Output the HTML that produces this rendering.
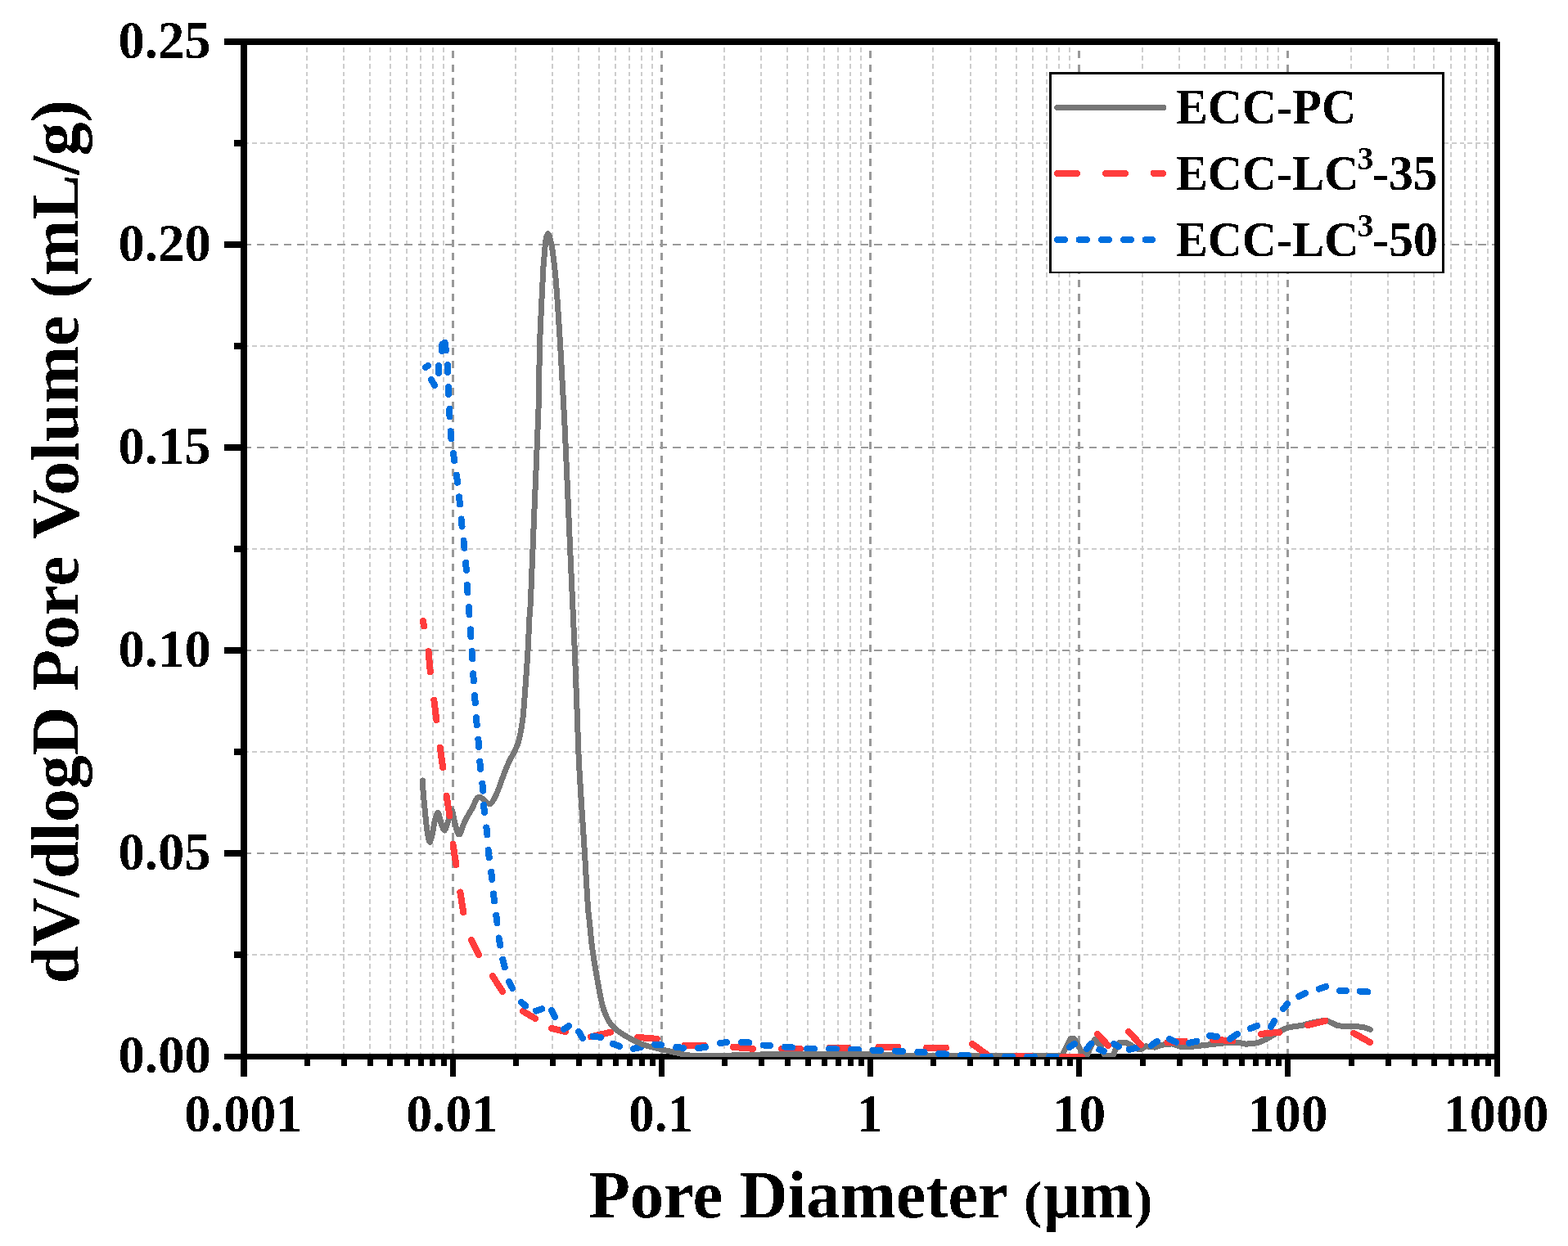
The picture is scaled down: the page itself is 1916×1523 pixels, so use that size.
<!DOCTYPE html>
<html lang="en"><head><meta charset="utf-8"><title>Pore size distribution</title>
<style>
html,body{margin:0;padding:0;background:#fff;}
body{width:1916px;height:1523px;overflow:hidden;}
svg{display:block;}
text{font-family:"Liberation Serif","Times New Roman",serif;font-weight:bold;fill:#000;filter:url(#bin);}
</style></head><body>
<svg width="1916" height="1523" viewBox="0 0 1916 1523" role="img" aria-label="dV/dlogD pore volume versus pore diameter for ECC-PC, ECC-LC3-35 and ECC-LC3-50">
<defs><filter id="bin" x="-5%" y="-20%" width="110%" height="140%" color-interpolation-filters="sRGB"><feComponentTransfer><feFuncA type="discrete" tableValues="0 1"/></feComponentTransfer></filter></defs>
<rect width="1916" height="1523" fill="#fff"/>
<g id="minor-grid" stroke="#cdcdcd" stroke-width="2" fill="none" shape-rendering="crispEdges">
<line x1="375" y1="51" x2="375" y2="1292" stroke-dasharray="5.8 4.024" stroke-dashoffset="2.72"/>
<line x1="420" y1="51" x2="420" y2="1292" stroke-dasharray="5.8 4.024" stroke-dashoffset="2.72"/>
<line x1="452" y1="51" x2="452" y2="1292" stroke-dasharray="5.8 4.024" stroke-dashoffset="2.72"/>
<line x1="477" y1="51" x2="477" y2="1292" stroke-dasharray="5.8 4.024" stroke-dashoffset="2.72"/>
<line x1="497" y1="51" x2="497" y2="1292" stroke-dasharray="5.8 4.024" stroke-dashoffset="2.72"/>
<line x1="514" y1="51" x2="514" y2="1292" stroke-dasharray="5.8 4.024" stroke-dashoffset="2.72"/>
<line x1="529" y1="51" x2="529" y2="1292" stroke-dasharray="5.8 4.024" stroke-dashoffset="2.72"/>
<line x1="542" y1="51" x2="542" y2="1292" stroke-dasharray="5.8 4.024" stroke-dashoffset="2.72"/>
<line x1="630" y1="51" x2="630" y2="1292" stroke-dasharray="5.8 4.024" stroke-dashoffset="2.72"/>
<line x1="675" y1="51" x2="675" y2="1292" stroke-dasharray="5.8 4.024" stroke-dashoffset="2.72"/>
<line x1="707" y1="51" x2="707" y2="1292" stroke-dasharray="5.8 4.024" stroke-dashoffset="2.72"/>
<line x1="732" y1="51" x2="732" y2="1292" stroke-dasharray="5.8 4.024" stroke-dashoffset="2.72"/>
<line x1="752" y1="51" x2="752" y2="1292" stroke-dasharray="5.8 4.024" stroke-dashoffset="2.72"/>
<line x1="769" y1="51" x2="769" y2="1292" stroke-dasharray="5.8 4.024" stroke-dashoffset="2.72"/>
<line x1="784" y1="51" x2="784" y2="1292" stroke-dasharray="5.8 4.024" stroke-dashoffset="2.72"/>
<line x1="797" y1="51" x2="797" y2="1292" stroke-dasharray="5.8 4.024" stroke-dashoffset="2.72"/>
<line x1="885" y1="51" x2="885" y2="1292" stroke-dasharray="5.8 4.024" stroke-dashoffset="2.72"/>
<line x1="930" y1="51" x2="930" y2="1292" stroke-dasharray="5.8 4.024" stroke-dashoffset="2.72"/>
<line x1="962" y1="51" x2="962" y2="1292" stroke-dasharray="5.8 4.024" stroke-dashoffset="2.72"/>
<line x1="987" y1="51" x2="987" y2="1292" stroke-dasharray="5.8 4.024" stroke-dashoffset="2.72"/>
<line x1="1007" y1="51" x2="1007" y2="1292" stroke-dasharray="5.8 4.024" stroke-dashoffset="2.72"/>
<line x1="1024" y1="51" x2="1024" y2="1292" stroke-dasharray="5.8 4.024" stroke-dashoffset="2.72"/>
<line x1="1039" y1="51" x2="1039" y2="1292" stroke-dasharray="5.8 4.024" stroke-dashoffset="2.72"/>
<line x1="1052" y1="51" x2="1052" y2="1292" stroke-dasharray="5.8 4.024" stroke-dashoffset="2.72"/>
<line x1="1140" y1="51" x2="1140" y2="1292" stroke-dasharray="5.8 4.024" stroke-dashoffset="2.72"/>
<line x1="1186" y1="51" x2="1186" y2="1292" stroke-dasharray="5.8 4.024" stroke-dashoffset="2.72"/>
<line x1="1217" y1="51" x2="1217" y2="1292" stroke-dasharray="5.8 4.024" stroke-dashoffset="2.72"/>
<line x1="1242" y1="51" x2="1242" y2="1292" stroke-dasharray="5.8 4.024" stroke-dashoffset="2.72"/>
<line x1="1262" y1="51" x2="1262" y2="1292" stroke-dasharray="5.8 4.024" stroke-dashoffset="2.72"/>
<line x1="1279" y1="51" x2="1279" y2="1292" stroke-dasharray="5.8 4.024" stroke-dashoffset="2.72"/>
<line x1="1294" y1="51" x2="1294" y2="1292" stroke-dasharray="5.8 4.024" stroke-dashoffset="2.72"/>
<line x1="1307" y1="51" x2="1307" y2="1292" stroke-dasharray="5.8 4.024" stroke-dashoffset="2.72"/>
<line x1="1396" y1="51" x2="1396" y2="1292" stroke-dasharray="5.8 4.024" stroke-dashoffset="2.72"/>
<line x1="1441" y1="51" x2="1441" y2="1292" stroke-dasharray="5.8 4.024" stroke-dashoffset="2.72"/>
<line x1="1472" y1="51" x2="1472" y2="1292" stroke-dasharray="5.8 4.024" stroke-dashoffset="2.72"/>
<line x1="1497" y1="51" x2="1497" y2="1292" stroke-dasharray="5.8 4.024" stroke-dashoffset="2.72"/>
<line x1="1517" y1="51" x2="1517" y2="1292" stroke-dasharray="5.8 4.024" stroke-dashoffset="2.72"/>
<line x1="1535" y1="51" x2="1535" y2="1292" stroke-dasharray="5.8 4.024" stroke-dashoffset="2.72"/>
<line x1="1549" y1="51" x2="1549" y2="1292" stroke-dasharray="5.8 4.024" stroke-dashoffset="2.72"/>
<line x1="1562" y1="51" x2="1562" y2="1292" stroke-dasharray="5.8 4.024" stroke-dashoffset="2.72"/>
<line x1="1651" y1="51" x2="1651" y2="1292" stroke-dasharray="5.8 4.024" stroke-dashoffset="2.72"/>
<line x1="1696" y1="51" x2="1696" y2="1292" stroke-dasharray="5.8 4.024" stroke-dashoffset="2.72"/>
<line x1="1728" y1="51" x2="1728" y2="1292" stroke-dasharray="5.8 4.024" stroke-dashoffset="2.72"/>
<line x1="1752" y1="51" x2="1752" y2="1292" stroke-dasharray="5.8 4.024" stroke-dashoffset="2.72"/>
<line x1="1773" y1="51" x2="1773" y2="1292" stroke-dasharray="5.8 4.024" stroke-dashoffset="2.72"/>
<line x1="1790" y1="51" x2="1790" y2="1292" stroke-dasharray="5.8 4.024" stroke-dashoffset="2.72"/>
<line x1="1804" y1="51" x2="1804" y2="1292" stroke-dasharray="5.8 4.024" stroke-dashoffset="2.72"/>
<line x1="1818" y1="51" x2="1818" y2="1292" stroke-dasharray="5.8 4.024" stroke-dashoffset="2.72"/>
<line x1="298.18" y1="1167" x2="1829" y2="1167" stroke-dasharray="5.8 3.972"/>
<line x1="298.18" y1="919" x2="1829" y2="919" stroke-dasharray="5.8 3.972"/>
<line x1="298.18" y1="671" x2="1829" y2="671" stroke-dasharray="5.8 3.972"/>
<line x1="298.18" y1="423" x2="1829" y2="423" stroke-dasharray="5.8 3.972"/>
<line x1="298.18" y1="175" x2="1829" y2="175" stroke-dasharray="5.8 3.972"/>
</g>
<g id="major-grid" stroke="#999999" fill="none" shape-rendering="crispEdges">
<line x1="553.5" y1="51" x2="553.5" y2="1292" stroke-width="3" stroke-dasharray="9.1 7.39" stroke-dashoffset="5.45"/>
<line x1="808.5" y1="51" x2="808.5" y2="1292" stroke-width="3" stroke-dasharray="9.1 7.39" stroke-dashoffset="5.45"/>
<line x1="1063.5" y1="51" x2="1063.5" y2="1292" stroke-width="3" stroke-dasharray="9.1 7.39" stroke-dashoffset="5.45"/>
<line x1="1318.5" y1="51" x2="1318.5" y2="1292" stroke-width="3" stroke-dasharray="9.1 7.39" stroke-dashoffset="5.45"/>
<line x1="1573.5" y1="51" x2="1573.5" y2="1292" stroke-width="3" stroke-dasharray="9.1 7.39" stroke-dashoffset="5.45"/>
<line x1="298" y1="1043" x2="1829" y2="1043" stroke-width="2" stroke-dasharray="9.2 7.2" stroke-dashoffset="0.4"/>
<line x1="298" y1="795" x2="1829" y2="795" stroke-width="2" stroke-dasharray="9.2 7.2" stroke-dashoffset="0.4"/>
<line x1="298" y1="547" x2="1829" y2="547" stroke-width="2" stroke-dasharray="9.2 7.2" stroke-dashoffset="0.4"/>
<line x1="298" y1="299" x2="1829" y2="299" stroke-width="2" stroke-dasharray="9.2 7.2" stroke-dashoffset="0.4"/>
</g>
<g id="axes" fill="#000" shape-rendering="crispEdges">
<rect x="274" y="47" width="1556" height="8"/>
<rect x="274" y="1288" width="1559" height="7"/>
<rect x="294" y="47" width="8" height="1269"/>
<rect x="1826" y="51" width="7" height="1265"/>
<rect x="274" y="1039" width="20" height="8"/>
<rect x="274" y="791" width="20" height="8"/>
<rect x="274" y="543" width="20" height="8"/>
<rect x="274" y="295" width="20" height="8"/>
<rect x="286" y="1163" width="8" height="8"/>
<rect x="286" y="915" width="8" height="8"/>
<rect x="286" y="667" width="8" height="8"/>
<rect x="286" y="419" width="8" height="8"/>
<rect x="286" y="171" width="8" height="8"/>
<rect x="550" y="1295" width="7" height="21"/>
<rect x="805" y="1295" width="7" height="21"/>
<rect x="1060" y="1295" width="7" height="21"/>
<rect x="1315" y="1295" width="7" height="21"/>
<rect x="1570" y="1295" width="7" height="21"/>
<rect x="372" y="1295" width="7" height="8"/>
<rect x="417" y="1295" width="7" height="8"/>
<rect x="449" y="1295" width="7" height="8"/>
<rect x="473" y="1295" width="7" height="8"/>
<rect x="494" y="1295" width="7" height="8"/>
<rect x="511" y="1295" width="7" height="8"/>
<rect x="525" y="1295" width="7" height="8"/>
<rect x="539" y="1295" width="7" height="8"/>
<rect x="627" y="1295" width="7" height="8"/>
<rect x="672" y="1295" width="7" height="8"/>
<rect x="704" y="1295" width="7" height="8"/>
<rect x="729" y="1295" width="7" height="8"/>
<rect x="749" y="1295" width="7" height="8"/>
<rect x="766" y="1295" width="7" height="8"/>
<rect x="781" y="1295" width="7" height="8"/>
<rect x="794" y="1295" width="7" height="8"/>
<rect x="882" y="1295" width="7" height="8"/>
<rect x="927" y="1295" width="7" height="8"/>
<rect x="959" y="1295" width="7" height="8"/>
<rect x="984" y="1295" width="7" height="8"/>
<rect x="1004" y="1295" width="7" height="8"/>
<rect x="1021" y="1295" width="7" height="8"/>
<rect x="1036" y="1295" width="7" height="8"/>
<rect x="1049" y="1295" width="7" height="8"/>
<rect x="1137" y="1295" width="7" height="8"/>
<rect x="1182" y="1295" width="7" height="8"/>
<rect x="1214" y="1295" width="7" height="8"/>
<rect x="1239" y="1295" width="7" height="8"/>
<rect x="1259" y="1295" width="7" height="8"/>
<rect x="1276" y="1295" width="7" height="8"/>
<rect x="1291" y="1295" width="7" height="8"/>
<rect x="1304" y="1295" width="7" height="8"/>
<rect x="1393" y="1295" width="7" height="8"/>
<rect x="1438" y="1295" width="7" height="8"/>
<rect x="1469" y="1295" width="7" height="8"/>
<rect x="1494" y="1295" width="7" height="8"/>
<rect x="1514" y="1295" width="7" height="8"/>
<rect x="1531" y="1295" width="7" height="8"/>
<rect x="1546" y="1295" width="7" height="8"/>
<rect x="1559" y="1295" width="7" height="8"/>
<rect x="1648" y="1295" width="7" height="8"/>
<rect x="1693" y="1295" width="7" height="8"/>
<rect x="1725" y="1295" width="7" height="8"/>
<rect x="1749" y="1295" width="7" height="8"/>
<rect x="1770" y="1295" width="7" height="8"/>
<rect x="1787" y="1295" width="7" height="8"/>
<rect x="1801" y="1295" width="7" height="8"/>
<rect x="1815" y="1295" width="7" height="8"/>
</g>
<defs><clipPath id="plotclip"><rect x="298" y="51" width="1531.5" height="1241"/></clipPath></defs>
<g id="curves" clip-path="url(#plotclip)" fill="none" stroke-linecap="round" stroke-linejoin="round" shape-rendering="crispEdges">
<g stroke-width="8">
<path d="M722.1,1267.3 L746.1,1261.6" stroke="#ff3c3c"/>
<path d="M779.0,1267.9 L802.8,1269.8" stroke="#ff3c3c"/>
<path d="M954.9,1282.0 L977.9,1282.0" stroke="#ff3c3c"/>
<path d="M1013.5,1280.6 L1036.6,1280.6" stroke="#ff3c3c"/>
<path d="M1654.0,1262.7 L1674.1,1274.0" stroke="#ff3c3c"/>
<path d="M774.1,1281.8 L783.0,1279.9" stroke="#006fdf"/>
<path d="M986.2,1282.0 L994.9,1282.0" stroke="#006fdf"/>
<path d="M1013.1,1282.0 L1022.0,1282.3" stroke="#006fdf"/>
<path d="M1040.0,1282.8 L1049.0,1283.0" stroke="#006fdf"/>
<path id="ecc-pc" d="M516.4,954.0 C516.5,955.3 516.4,957.1 516.7,961.7 C517.0,966.3 517.7,974.3 518.4,981.8 C519.1,989.3 520.1,999.8 520.9,1006.8 C521.7,1013.8 522.6,1019.8 523.4,1023.5 C524.2,1027.2 524.7,1029.8 525.5,1029.0 C526.3,1028.2 527.4,1023.0 528.4,1018.5 C529.4,1014.0 530.5,1006.0 531.7,1001.8 C532.9,997.6 534.1,992.7 535.4,993.5 C536.6,994.3 537.9,1003.2 539.2,1006.8 C540.5,1010.4 542.0,1015.5 543.4,1015.0 C544.8,1014.5 546.1,1007.6 547.6,1003.5 C549.1,999.4 550.7,989.8 552.1,990.3 C553.5,990.8 554.5,1001.8 556.0,1006.8 C557.5,1011.8 559.2,1020.0 561.0,1020.0 C562.8,1020.0 565.0,1010.7 566.8,1006.8 C568.6,1002.9 570.0,1000.1 571.8,996.8 C573.6,993.5 576.0,990.0 577.7,986.8 C579.4,983.6 580.3,979.7 581.8,977.6 C583.3,975.5 584.0,973.5 586.8,974.4 C589.6,975.3 595.4,983.1 598.5,982.9 C601.6,982.7 603.4,976.6 605.2,973.4 C607.0,970.2 607.7,968.2 609.4,963.8 C611.1,959.4 614.4,949.9 615.4,947.1 C616.5,944.3 620.1,935.1 622.3,930.4 C624.5,925.7 626.7,922.9 628.6,918.7 C630.5,914.5 632.2,911.8 633.9,905.4 C635.6,899.0 637.3,890.0 638.6,880.3 C639.9,870.5 640.4,861.1 641.5,846.9 C642.6,832.7 644.1,810.6 645.0,795.1 C645.9,779.6 646.4,764.8 647.0,753.9 C647.6,743.0 647.6,753.1 648.6,730.0 C649.6,706.9 651.7,653.3 653.3,615.0 C654.9,576.7 657.0,532.0 658.0,500.0 C659.0,468.0 658.8,445.3 659.5,422.8 C660.2,400.3 661.3,380.8 662.0,365.2 C662.7,349.6 663.3,337.8 663.8,329.0 C664.3,320.2 664.7,317.9 665.1,312.7 C665.5,307.5 666.0,301.7 666.4,298.0 C666.8,294.3 667.1,292.4 667.6,290.3 C668.1,288.2 668.9,285.8 669.5,285.6 C670.1,285.4 670.8,287.3 671.5,289.3 C672.2,291.3 672.9,294.2 673.6,297.6 C674.3,301.0 674.7,302.5 675.6,309.4 C676.5,316.3 678.0,329.0 678.9,338.9 C679.8,348.8 680.2,354.5 681.2,368.5 C682.2,382.5 683.2,396.9 684.7,422.8 C686.2,448.7 688.4,487.7 690.2,523.9 C692.0,560.1 693.6,601.7 695.3,640.0 C697.0,678.3 699.2,728.0 700.4,753.9 C701.6,779.8 701.5,776.8 702.3,795.1 C703.0,813.4 704.0,841.1 704.9,863.6 C705.8,886.1 706.4,910.4 707.4,930.4 C708.4,950.4 709.5,965.6 710.6,983.9 C711.8,1002.2 713.0,1019.7 714.3,1040.2 C715.6,1060.7 717.2,1092.0 718.3,1107.0 C719.4,1122.0 719.9,1122.0 720.7,1130.0 C721.5,1138.0 722.1,1146.1 723.2,1155.0 C724.3,1163.9 725.8,1173.2 727.5,1183.5 C729.2,1193.8 731.9,1208.7 733.5,1216.9 C735.1,1225.1 736.1,1228.7 737.2,1232.5 C738.3,1236.3 739.0,1237.5 740.0,1240.0 C741.0,1242.5 741.8,1244.8 743.5,1247.5 C745.2,1250.2 747.3,1253.2 750.1,1255.9 C752.9,1258.6 756.4,1261.3 760.2,1263.8 C764.0,1266.3 768.3,1268.5 772.8,1270.8 C777.3,1273.0 781.8,1275.5 787.0,1277.3 C792.2,1279.1 797.9,1280.1 803.9,1281.6 C809.9,1283.0 815.9,1284.5 822.7,1286.0 C829.6,1287.5 835.5,1289.5 845.0,1290.3 C854.5,1291.0 874.2,1290.5 880.0,1290.5 L900.0,1289.8 L940.0,1288.7 L1066.0,1288.5 L1130.0,1290.9 L1294.0,1290.9 L1297.5,1290.9 L1303.0,1279.5 L1307.8,1269.8 L1312.8,1269.8 L1317.6,1278.4 L1323.4,1288.4 L1328.0,1290.1 L1333.4,1278.4 L1337.6,1270.4 L1344.3,1277.6 L1348.5,1286.8 L1350.0,1290.1 L1360.1,1290.1 L1363.5,1281.8 L1368.5,1274.2 L1375.2,1274.2 L1381.9,1277.6 L1388.5,1281.8 L1393.5,1283.0 L1400.2,1278.8 L1411.1,1280.1 L1421.9,1276.8 L1432.0,1275.9 L1442.5,1279.3 L1455.1,1279.4 L1467.6,1278.0 L1480.1,1276.6 L1495.0,1275.0 L1513.5,1274.4 L1521.9,1276.1 L1530.2,1275.8 L1538.6,1274.1 L1546.9,1270.5 L1555.3,1265.5 L1563.6,1260.5 L1572.0,1256.7 L1580.3,1254.8 L1590.0,1253.6 L1605.2,1249.5 L1620.2,1247.0 L1635.2,1253.9 L1650.3,1254.5 L1665.3,1255.2 L1674.3,1258.3" stroke="#767676" stroke-width="7"/>
<path d="M516.9,759.0 L518.1,765.2" stroke="#ff3c3c"/>
<path d="M523.5,796.2 L525.8,821.1" stroke="#ff3c3c"/>
<path d="M530.4,855.8 L533.3,880.0" stroke="#ff3c3c"/>
<path d="M537.8,913.8 L541.1,938.1" stroke="#ff3c3c"/>
<path d="M545.6,973.0 L549.5,997.2" stroke="#ff3c3c"/>
<path d="M553.5,1032.0 L557.3,1057.0" stroke="#ff3c3c"/>
<path d="M562.4,1090.5 L566.2,1115.0" stroke="#ff3c3c"/>
<path d="M575.9,1149.0 L585.1,1167.2" stroke="#ff3c3c"/>
<path d="M601.8,1193.0 L614.0,1211.9" stroke="#ff3c3c"/>
<path d="M638.9,1236.1 L654.2,1245.0" stroke="#ff3c3c"/>
<path d="M674.0,1256.9 L691.0,1261.0" stroke="#ff3c3c"/>
<path d="M836.9,1277.6 L860.2,1277.6" stroke="#ff3c3c"/>
<path d="M895.9,1279.9 L919.9,1281.8" stroke="#ff3c3c"/>
<path d="M1073.4,1279.9 L1097.2,1279.9" stroke="#ff3c3c"/>
<path d="M1132.1,1280.7 L1155.9,1280.7" stroke="#ff3c3c"/>
<path d="M1188.0,1276.0 L1206.0,1289.0" stroke="#ff3c3c"/>
<path d="M1240.9,1290.9 L1260.0,1290.9" stroke="#ff3c3c"/>
<path d="M1298.0,1291.9 L1322.1,1291.9" stroke="#ff3c3c"/>
<path d="M1426.4,1274.2 L1447.9,1272.8" stroke="#ff3c3c"/>
<path d="M1482.0,1270.8 L1506.2,1272.1" stroke="#ff3c3c"/>
<path d="M1598.1,1253.0 L1619.3,1247.9" stroke="#ff3c3c"/>
<path d="M520.0,449.0 L523.0,447.1" stroke="#006fdf"/>
<path d="M527.0,464.0 L531.1,471.0" stroke="#006fdf"/>
<path d="M535.9,455.9 L536.0,446.9" stroke="#006fdf"/>
<path d="M539.9,428.9 L540.3,421 L543.6,418.8 L544.9,428.4" stroke="#006fdf"/>
<path d="M546.9,446.0 L547.0,454.9" stroke="#006fdf"/>
<path d="M548.0,473.0 L548.2,481.9" stroke="#006fdf"/>
<path d="M549.4,500.0 L549.5,509.1" stroke="#006fdf"/>
<path d="M550.5,527.2 L551.3,536.2" stroke="#006fdf"/>
<path d="M554.0,554.0 L555.2,563.0" stroke="#006fdf"/>
<path d="M557.9,580.7 L559.1,589.7" stroke="#006fdf"/>
<path d="M561.0,607.4 L562.0,616.4" stroke="#006fdf"/>
<path d="M563.6,634.5 L564.6,643.5" stroke="#006fdf"/>
<path d="M566.5,660.8 L567.5,669.8" stroke="#006fdf"/>
<path d="M569.2,687.9 L569.8,696.9" stroke="#006fdf"/>
<path d="M570.8,715.1 L571.4,724.1" stroke="#006fdf"/>
<path d="M572.9,742.0 L573.5,751.0" stroke="#006fdf"/>
<path d="M574.9,769.4 L575.5,778.4" stroke="#006fdf"/>
<path d="M576.6,796.2 L577.2,805.2" stroke="#006fdf"/>
<path d="M578.2,823.4 L578.8,832.4" stroke="#006fdf"/>
<path d="M580.1,850.2 L580.7,859.2" stroke="#006fdf"/>
<path d="M581.9,877.0 L582.7,886.0" stroke="#006fdf"/>
<path d="M584.4,903.8 L585.2,912.8" stroke="#006fdf"/>
<path d="M586.3,930.9 L587.1,939.9" stroke="#006fdf"/>
<path d="M589.4,957.7 L590.2,966.7" stroke="#006fdf"/>
<path d="M591.1,983.9 L591.9,992.9" stroke="#006fdf"/>
<path d="M594.4,1011.5 L595.4,1020.5" stroke="#006fdf"/>
<path d="M596.7,1039.1 L597.7,1048.1" stroke="#006fdf"/>
<path d="M600.2,1065.8 L601.2,1074.8" stroke="#006fdf"/>
<path d="M603.0,1092.5 L604.0,1101.5" stroke="#006fdf"/>
<path d="M606.3,1119.0 L607.5,1128.0" stroke="#006fdf"/>
<path d="M609.6,1146.5 L611.3,1155.5" stroke="#006fdf"/>
<path d="M614.4,1172.8 L616.8,1182.3" stroke="#006fdf"/>
<path d="M622.0,1200.0 L626.2,1207.9" stroke="#006fdf"/>
<path d="M637.0,1224.9 L642.1,1229.5" stroke="#006fdf"/>
<path d="M655.2,1235.5 L662.1,1233.2" stroke="#006fdf"/>
<path d="M674.0,1234.8 L678.1,1242.9" stroke="#006fdf"/>
<path d="M688.8,1258.1 L695.2,1254.0" stroke="#006fdf"/>
<path d="M707.1,1260.9 L712.0,1269.1" stroke="#006fdf"/>
<path d="M724.7,1266.9 L734.0,1267.8" stroke="#006fdf"/>
<path d="M749.0,1275.8 L757.1,1279.0" stroke="#006fdf"/>
<path d="M800.2,1276.6 L808.0,1277.3" stroke="#006fdf"/>
<path d="M826.3,1279.9 L835.0,1280.8" stroke="#006fdf"/>
<path d="M853.1,1281.1 L862.1,1279.9" stroke="#006fdf"/>
<path d="M880.0,1275.1 L887.9,1274.0" stroke="#006fdf"/>
<path d="M906.1,1274.0 L915.0,1274.4" stroke="#006fdf"/>
<path d="M933.1,1277.5 L940.9,1278.2" stroke="#006fdf"/>
<path d="M959.1,1279.7 L968.0,1280.3" stroke="#006fdf"/>
<path d="M1066.8,1283.8 L1076.0,1284.2" stroke="#006fdf"/>
<path d="M1094.2,1284.5 L1102.9,1284.8" stroke="#006fdf"/>
<path d="M1121.4,1286.0 L1129.6,1286.2" stroke="#006fdf"/>
<path d="M1147.2,1288.0 L1156.2,1288.5" stroke="#006fdf"/>
<path d="M1174.1,1290.2 L1182.8,1290.2" stroke="#006fdf"/>
<path d="M1201.0,1291.7 L1209.9,1291.7" stroke="#006fdf"/>
<path d="M1228.1,1291.7 L1237.1,1291.7" stroke="#006fdf"/>
<path d="M1255.0,1291.7 L1264.0,1291.7" stroke="#006fdf"/>
<path d="M1282.1,1291.7 L1290.3,1291.7" stroke="#006fdf"/>
<path d="M1306.9,1279.9 L1313.1,1275.7" stroke="#006fdf"/>
<path d="M1328.1,1281.9 L1333.2,1275.7" stroke="#006fdf"/>
<path d="M1343.3,1282.8 L1348.8,1284.9" stroke="#006fdf"/>
<path d="M1361.2,1275.9 L1366.8,1279.3" stroke="#006fdf"/>
<path d="M1380.0,1282.8 L1388.9,1280.8" stroke="#006fdf"/>
<path d="M1406.9,1277.8 L1413.9,1272.8" stroke="#006fdf"/>
<path d="M1429.1,1269.9 L1437.0,1273.8" stroke="#006fdf"/>
<path d="M1453.0,1274.9 L1462.1,1272.8" stroke="#006fdf"/>
<path d="M1478.0,1265.9 L1487.0,1267.1" stroke="#006fdf"/>
<path d="M1503.1,1269.9 L1512.0,1263.9" stroke="#006fdf"/>
<path d="M1527.9,1257.1 L1536.1,1253.9" stroke="#006fdf"/>
<path d="M1553.0,1255.2 L1557.1,1248.0" stroke="#006fdf"/>
<path d="M1568.2,1233.0 L1573.2,1227.0" stroke="#006fdf"/>
<path d="M1587.2,1218.0 L1595.1,1214.1" stroke="#006fdf"/>
<path d="M1611.9,1208.8 L1620.2,1205.9" stroke="#006fdf"/>
<path d="M1637.0,1210.9 L1644.8,1210.9" stroke="#006fdf"/>
<path d="M1662.0,1211.6 L1671.3,1212.4" stroke="#006fdf"/>
<path d="M1340.9,1263.9 L1354.1,1277.9" stroke="#ff3c3c"/>
<path d="M1379.0,1260.9 L1394.1,1277.1" stroke="#ff3c3c"/>
<path d="M1541.1,1263.8 L1563.0,1261.8" stroke="#ff3c3c"/>
</g>
</g>
<g id="ylabels">
<text x="144.45" y="1311.05" font-size="66.2" textLength="113.37" lengthAdjust="spacingAndGlyphs">0.00</text>
<text x="144.46" y="1062.95" font-size="66.2" textLength="113.12" lengthAdjust="spacingAndGlyphs">0.05</text>
<text x="144.45" y="814.85" font-size="66.2" textLength="113.37" lengthAdjust="spacingAndGlyphs">0.10</text>
<text x="144.46" y="566.75" font-size="66.2" textLength="113.12" lengthAdjust="spacingAndGlyphs">0.15</text>
<text x="144.45" y="318.65" font-size="66.2" textLength="113.37" lengthAdjust="spacingAndGlyphs">0.20</text>
<text x="144.46" y="70.55" font-size="66.2" textLength="113.12" lengthAdjust="spacingAndGlyphs">0.25</text>
</g>
<g id="xlabels">
<text x="225.18" y="1383.00" font-size="66.2" textLength="143.92" lengthAdjust="spacingAndGlyphs">0.001</text>
<text x="496.18" y="1383.00" font-size="66.2" textLength="112.14" lengthAdjust="spacingAndGlyphs">0.01</text>
<text x="768.33" y="1383.00" font-size="66.2" textLength="78.48" lengthAdjust="spacingAndGlyphs">0.1</text>
<text x="1047.44" y="1383.00" font-size="66.2" textLength="30.66" lengthAdjust="spacingAndGlyphs">1</text>
<text x="1285.91" y="1383.00" font-size="66.2" textLength="65.40" lengthAdjust="spacingAndGlyphs">10</text>
<text x="1524.72" y="1383.00" font-size="66.2" textLength="97.87" lengthAdjust="spacingAndGlyphs">100</text>
<text x="1763.59" y="1383.00" font-size="66.2" textLength="128.87" lengthAdjust="spacingAndGlyphs">1000</text>
</g>
<text id="xtitle" y="1488.1"><tspan x="719.40" font-size="82.6" textLength="163.68" lengthAdjust="spacingAndGlyphs">Pore</tspan> <tspan x="903.31" font-size="82.6" textLength="328.07" lengthAdjust="spacingAndGlyphs">Diameter</tspan> <tspan x="1251.02" font-size="64.4" textLength="22.49" lengthAdjust="spacingAndGlyphs">(</tspan><tspan x="1275.46" font-size="82.6" textLength="108.73" lengthAdjust="spacingAndGlyphs">μm</tspan><tspan x="1385.78" font-size="64.4" textLength="22.75" lengthAdjust="spacingAndGlyphs">)</tspan></text>
<text id="ytitle" transform="translate(95.1,1199.1) rotate(-90)" y="0"><tspan x="-3.24" font-size="82.6" textLength="338.79" lengthAdjust="spacingAndGlyphs">dV/dlogD</tspan> <tspan x="354.28" font-size="82.6" textLength="165.21" lengthAdjust="spacingAndGlyphs">Pore</tspan> <tspan x="539.98" font-size="82.6" textLength="273.39" lengthAdjust="spacingAndGlyphs">Volume</tspan> <tspan x="834.36" font-size="82.6" textLength="242.80" lengthAdjust="spacingAndGlyphs">(mL/g)</tspan></text>
<g id="legend">
<g shape-rendering="crispEdges"><rect x="1282" y="88" width="483" height="246" fill="#000"/><rect x="1285" y="91" width="477" height="241" fill="#fff"/></g>
<g fill="none" stroke-width="8" stroke-linecap="round" shape-rendering="crispEdges"><line x1="1291.6" y1="131.5" x2="1421.6" y2="131.5" stroke="#767676" stroke-width="7"/>
<path d="M1292.1,211.9 H1316.05 M1351,211.9 H1375.1 M1409.8,211.9 H1421.1" stroke="#ff3c3c"/>
<path d="M1292.1,293 H1301 M1318.8,293 H1327.9 M1346,293 H1355 M1373,293 H1381.8 M1399.8,293 H1408" stroke="#006fdf"/></g>
<text y="151.07"><tspan x="1436.88" font-size="60.3" textLength="220.08" lengthAdjust="spacingAndGlyphs">ECC-PC</tspan></text>
<text y="231.86"><tspan x="1436.88" y="231.86" font-size="60.3" textLength="223.42" lengthAdjust="spacingAndGlyphs">ECC-LC</tspan><tspan x="1658.61" y="207.36" font-size="40" textLength="19.88" lengthAdjust="spacingAndGlyphs">3</tspan><tspan x="1677.08" y="231.86" font-size="60.3" textLength="79.49" lengthAdjust="spacingAndGlyphs">-35</tspan></text>
<text y="313.0"><tspan x="1436.88" y="313.00" font-size="60.3" textLength="223.42" lengthAdjust="spacingAndGlyphs">ECC-LC</tspan><tspan x="1658.61" y="288.50" font-size="40" textLength="19.88" lengthAdjust="spacingAndGlyphs">3</tspan><tspan x="1677.07" y="313.00" font-size="60.3" textLength="79.75" lengthAdjust="spacingAndGlyphs">-50</tspan></text>
</g>
</svg></body></html>
